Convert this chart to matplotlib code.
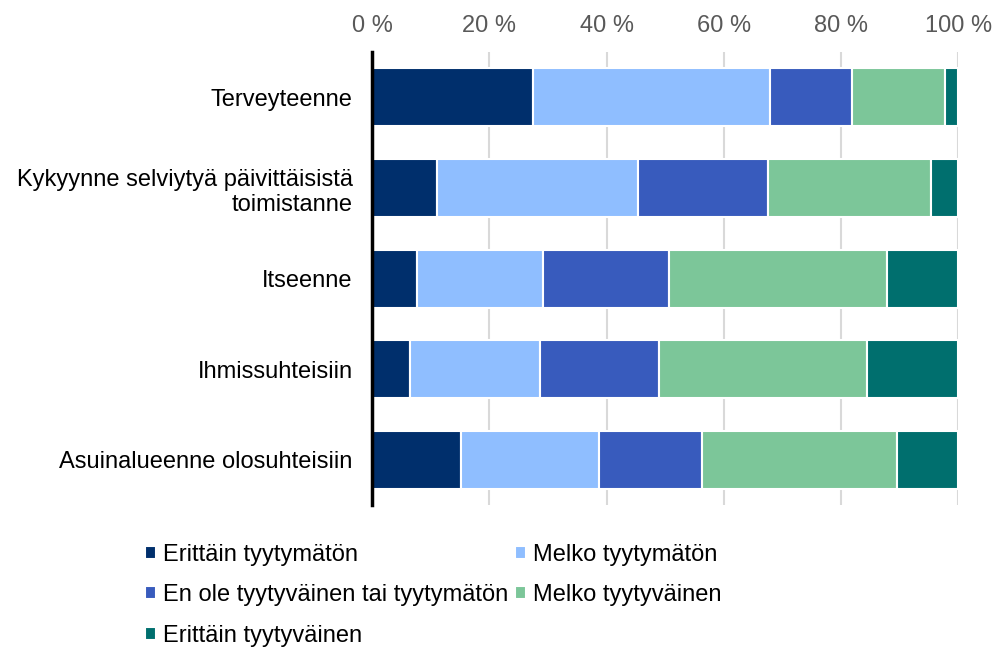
import numpy as np
import matplotlib.pyplot as plt

plt.rcParams['font.family'] = ['Liberation Sans', 'DejaVu Sans']

categories = ["Terveyteenne",
              "Kykyynne selviytyä päivittäisistä\ntoimistanne",
              "Itseenne",
              "Ihmissuhteisiin",
              "Asuinalueenne olosuhteisiin"]
series_names = ["Erittäin tyytymätön", "Melko tyytymätön",
                "En ole tyytyväinen tai tyytymätön", "Melko tyytyväinen",
                "Erittäin tyytyväinen"]
erittain_tyytymaton = [27.5, 11.0, 7.6, 6.4, 15.2]
melko_tyytymaton = [40.4, 34.4, 21.5, 22.2, 23.5]
neutraali = [14.0, 22.1, 21.5, 20.3, 17.6]
melko_tyytyvainen = [15.8, 27.9, 37.3, 35.5, 33.3]
erittain_tyytyvainen = [2.3, 4.6, 12.1, 15.6, 10.4]
colors = ["#002F6C", "#8FBEFF", "#385BBD", "#7CC699", "#006F6E"]
tick_values = [0, 20, 40, 60, 80, 100]

series = [erittain_tyytymaton, melko_tyytymaton, neutraali,
          melko_tyytyvainen, erittain_tyytyvainen]

FS = 17

fig = plt.figure(figsize=(9.95, 6.52), dpi=100)
ax = fig.add_axes([0.374, 0.2255, 0.589, 0.6945])

y = np.arange(len(categories))
left = np.zeros(len(categories))
handles = []
for name, vals, col in zip(series_names, series, colors):
    b = ax.barh(y, vals, left=left, height=0.64, color=col,
                edgecolor="white", linewidth=1.5, label=name, zorder=3)
    handles.append(b)
    left += np.array(vals)

ax.set_xlim(0, 100)
ax.set_ylim(len(categories) - 0.5, -0.5)
ax.set_yticks(y)
ax.set_yticklabels(categories, fontsize=FS, color="black")
ax.set_xticks(tick_values)
ax.set_xticklabels([f"{v} %" for v in tick_values], fontsize=FS, color="#595959")
ax.xaxis.tick_top()
ax.tick_params(axis="both", length=0)
ax.tick_params(axis="y", pad=14)
ax.tick_params(axis="x", pad=11)
ax.grid(axis="x", color="#D9D9D9", linewidth=1.5, zorder=0)
for s in ["top", "right", "bottom"]:
    ax.spines[s].set_visible(False)
ax.spines["left"].set_linewidth(2.5)
ax.spines["left"].set_zorder(4)

# row-wise legend order
order = [0, 2, 4, 1, 3]
fig.legend([handles[i] for i in order], [series_names[i] for i in order],
           ncol=2, loc="upper left", bbox_to_anchor=(0.146, 0.166),
           frameon=False, fontsize=FS, handlelength=0.45, handleheight=0.45,
           handletextpad=0.3, columnspacing=0.3, labelspacing=0.78,
           borderpad=0, borderaxespad=0)

plt.savefig("out.png", dpi=100)
plt.close()
